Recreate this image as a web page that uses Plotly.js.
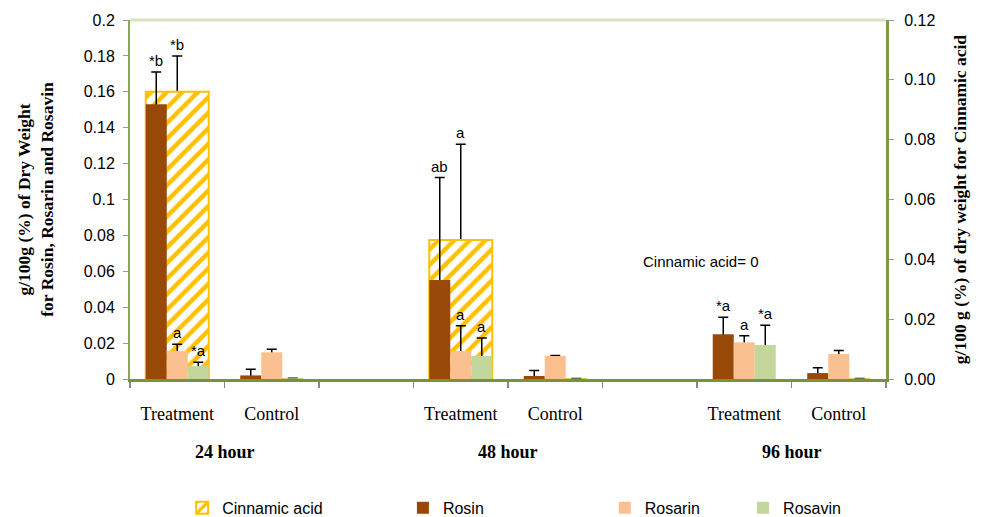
<!DOCTYPE html>
<html>
<head>
<meta charset="utf-8">
<script src="https://cdn.plot.ly/plotly-3.0.1.min.js"></script>
<style>html,body{margin:0;padding:0;background:#fff;}#chart{width:981px;height:517px;}</style>
</head>
<body>
<div id="chart"></div>
<script>
// ---- data ----
const tickLabels = ["Treatment", "Control", "Treatment", "Control", "Treatment", "Control"];
const xSlots = [0, 1, 3, 4, 6, 7];
const groupLabels = ["24 hour", "48 hour", "96 hour"];
const groupSlots = [0.5, 3.5, 6.5];

const rosin = [0.153, 0.002, 0.0552, 0.0017, 0.0249, 0.0033];
const rosinErr = [0.018, 0.0035, 0.057, 0.003, 0.0095, 0.003];
const rosarin = [0.0156, 0.0149, 0.0156, 0.0128, 0.0204, 0.0139];
const rosarinErr = [0.0037, 0.0017, 0.014, 0.0003, 0.0037, 0.002];
const rosavin = [0.0072, 0.0004, 0.0128, 0.0003, 0.0189, 0.0003];
const rosavinErr = [0.0021, NaN, 0.010, NaN, 0.011, NaN];
const cinnamic = [0.096, 0, 0.0465, 0, 0, 0];
const cinnamicErr = [0.012, NaN, 0.032, NaN, NaN, NaN];

const rosinLetters = ["*b", "", "ab", "", "*a", ""];
const rosarinLetters = ["a", "", "a", "", "a", ""];
const rosavinLetters = ["*a", "", "a", "", "*a", ""];
const cinnamicLetters = ["*b", "", "a", "", "", ""];

const leftTicks = [0, 0.02, 0.04, 0.06, 0.08, 0.1, 0.12, 0.14, 0.16, 0.18, 0.2];
const rightTicks = [0, 0.02, 0.04, 0.06, 0.08, 0.10, 0.12];

// ---- styles ----
const BARGAP = 1 / 3;
const serif = "Liberation Serif, Times New Roman, serif";
const sans = "Liberation Sans, Arial, sans-serif";
const CLEAR = 'rgba(0,0,0,0)';

// Error bars are carried by transparent bars on a layer beneath the coloured bars,
// running from the baseline so only the part above each bar shows.
function errOpts(up, down) {
  return {type: 'data', array: up, arrayminus: down, symmetric: false,
          visible: true, color: '#000', thickness: 1.5, width: 5};
}

const series = [
  {name: 'Rosin', y: rosin, err: rosinErr, color: '#984807', legend: 'legend2'},
  {name: 'Rosarin', y: rosarin, err: rosarinErr, color: '#FAC090', legend: 'legend3'},
  {name: 'Rosavin', y: rosavin, err: rosavinErr, color: '#C3D69B', legend: 'legend4'}
];

const traces = [];
// layer 1 (y): cinnamic error carrier
traces.push({type: 'bar', name: 'Cinnamic acid err', x: xSlots, y: cinnamic, yaxis: 'y',
  marker: {color: CLEAR}, error_y: errOpts(cinnamicErr, cinnamic), showlegend: false, hoverinfo: 'skip'});
// layer 2 (y2): cinnamic bars
traces.push({type: 'bar', name: 'Cinnamic acid', x: xSlots, y: cinnamic, yaxis: 'y2',
  marker: {color: '#FFFFFF', line: {color: '#FFC000', width: 2},
           pattern: {shape: '/', fgcolor: '#FFC000', bgcolor: '#FFFFFF', size: 11, solidity: 0.4}},
  legend: 'legend', hoverinfo: 'skip'});
// layer 3 (y3): other error carriers
series.forEach(s => traces.push({type: 'bar', name: s.name + ' err', x: xSlots, y: s.y, yaxis: 'y3',
  marker: {color: CLEAR}, error_y: errOpts(s.err, s.y), showlegend: false, hoverinfo: 'skip'}));
// layer 4 (y4): other bars
series.forEach(s => traces.push({type: 'bar', name: s.name, x: xSlots, y: s.y, yaxis: 'y4',
  marker: {color: s.color}, legend: s.legend, hoverinfo: 'skip'}));

// letter annotations
const annotations = [];
const w = (1 - BARGAP) / 3;
function addLetters(letters, vals, errs, offset, yref) {
  letters.forEach((t, i) => {
    if (!t) return;
    annotations.push({text: t, x: xSlots[i] + offset, y: vals[i] + errs[i], xref: 'x', yref: yref,
      xanchor: 'center', yanchor: 'bottom', yshift: 1, showarrow: false,
      font: {family: sans, size: 15, color: '#000'}});
  });
}
addLetters(rosinLetters, rosin, rosinErr, -w, 'y4');
addLetters(rosarinLetters, rosarin, rosarinErr, 0, 'y4');
addLetters(rosavinLetters, rosavin, rosavinErr, w, 'y4');
addLetters(cinnamicLetters, cinnamic, cinnamicErr, 0, 'y2');

groupLabels.forEach((g, i) => {
  annotations.push({text: g, x: groupSlots[i], xref: 'x', y: 0, yref: 'paper',
    xanchor: 'center', yanchor: 'middle', yshift: -73, showarrow: false,
    font: {family: serif, size: 18, color: '#000', weight: 'bold'}});
});
annotations.push({text: 'Cinnamic acid= 0', x: 0.755, y: 0.326, xref: 'paper', yref: 'paper',
  xanchor: 'center', yanchor: 'middle', showarrow: false,
  font: {family: sans, size: 15, color: '#000'}});

function legendAt(x) {
  return {x: x, y: -0.359, xanchor: 'left', yanchor: 'middle', orientation: 'h',
          font: {family: sans, size: 16, color: '#000'}, bgcolor: CLEAR, itemwidth: 30};
}

const hiddenAxis = (range) => ({range: range, overlaying: 'y', visible: false, showgrid: false,
  zeroline: false, fixedrange: true});

const layout = {
  width: 981, height: 517,
  margin: {l: 130, r: 95, t: 20, b: 138, autoexpand: false},
  paper_bgcolor: '#fff', plot_bgcolor: '#fff',
  barmode: 'group', bargap: BARGAP, bargroupgap: 0,
  showlegend: true,
  legend: legendAt(0.069),
  legend2: legendAt(0.361),
  legend3: legendAt(0.628),
  legend4: legendAt(0.811),
  xaxis: {
    range: [-0.5, 7.5], tickmode: 'array', tickvals: xSlots, ticktext: tickLabels,
    ticks: '', showgrid: false, zeroline: false,
    showline: true, linecolor: '#77933C', linewidth: 3,
    tickfont: {family: serif, size: 18, color: '#000'}, ticklabelstandoff: 16,
    minor: {ticks: 'outside', tick0: 0.5, dtick: 1, ticklen: 6, tickwidth: 1.5, tickcolor: '#888', showgrid: false}
  },
  yaxis: {
    range: [0, 0.12], side: 'right', tickmode: 'array', tickvals: rightTicks,
    tickformat: '.2f', ticks: 'outside', ticklen: 5, tickcolor: '#999', showgrid: false, zeroline: false,
    showline: true, linecolor: '#7F9A48', linewidth: 3, ticklabelstandoff: 7,
    tickfont: {family: sans, size: 16, color: '#000'},
    title: {text: 'g/100 g (%) of dry weight for Cinnamic acid', standoff: 20,
            font: {family: serif, size: 17.5, color: '#000', weight: 'bold'}}
  },
  yaxis2: hiddenAxis([0, 0.12]),
  yaxis3: hiddenAxis([0, 0.2]),
  yaxis4: {
    range: [0, 0.2], side: 'left', overlaying: 'y', tickmode: 'array', tickvals: leftTicks,
    ticks: 'outside', ticklen: 5, tickcolor: '#999', showgrid: false, zeroline: false,
    showline: true, linecolor: '#8EA65A', linewidth: 2, ticklabelstandoff: 5,
    tickfont: {family: sans, size: 16, color: '#000'},
    title: {text: 'g/100g (%) of Dry Weight<br>for Rosin, Rosarin and Rosavin', standoff: 26,
            font: {family: serif, size: 17.5, color: '#000', weight: 'bold'}}
  },
  shapes: [
    {type: 'line', xref: 'paper', yref: 'paper', x0: 0, x1: 1, y0: 1, y1: 1,
     line: {color: '#D7E4BD', width: 3}}
  ],
  annotations: annotations
};

Plotly.newPlot('chart', traces, layout, {staticPlot: true});
</script>
</body>
</html>
